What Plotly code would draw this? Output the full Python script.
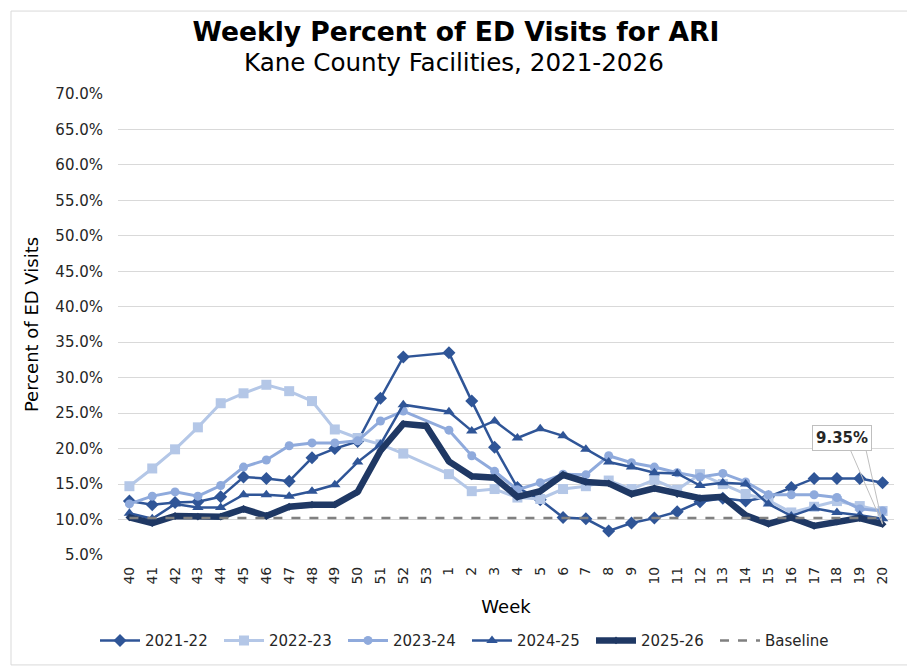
import plotly.graph_objects as go

# MMWR weeks, season runs week 40 -> week 20
weeks = [str(w) for w in list(range(40, 54)) + list(range(1, 21))]

# percent of ED visits for ARI (None = no week 53 that season)
season_2021_22 = [12.6, 12.1, 12.4, 12.5, 13.2, 16.0, 15.8, 15.4, 18.7, 20.0, 21.0, 27.1, 32.9, None,
                  33.5, 26.7, 20.2, 14.5, 12.8, 10.3, 10.1, 8.4, 9.5, 10.2, 11.1, 12.5, 13.0, 12.6,
                  13.2, 14.5, 15.8, 15.8, 15.8, 15.2]
season_2022_23 = [14.7, 17.2, 19.9, 23.0, 26.4, 27.8, 29.0, 28.1, 26.7, 22.7, 21.5, 20.6, 19.3, None,
                  16.4, 14.0, 14.3, 13.1, 12.9, 14.3, 14.7, 15.5, 14.3, 15.6, 14.2, 16.4, 15.0, 13.6,
                  12.7, 11.0, 11.8, 12.6, 11.9, 11.2]
season_2023_24 = [12.2, 13.3, 13.9, 13.3, 14.8, 17.4, 18.4, 20.4, 20.8, 20.8, 21.1, 23.9, 25.3, None,
                  22.6, 19.0, 16.8, 14.2, 15.2, 16.4, 16.3, 19.0, 18.0, 17.4, 16.6, 16.0, 16.5, 15.3,
                  13.5, 13.5, 13.5, 13.1, 11.5, 11.2]
season_2024_25 = [10.9, 10.1, 12.2, 11.7, 11.7, 13.5, 13.5, 13.3, 14.0, 14.9, 18.1, 20.6, 26.2, None,
                  25.2, 22.5, 23.9, 21.5, 22.8, 21.8, 19.9, 18.1, 17.4, 16.6, 16.5, 14.8, 15.2, 15.0,
                  12.2, 10.5, 11.6, 11.0, 10.6, 10.1]
season_2025_26 = [10.3, 9.5, 10.5, 10.4, 10.4, 11.5, 10.5, 11.8, 12.1, 12.1, 13.9, 19.7, 23.5, 23.2,
                  18.2, 16.1, 15.9, 13.2, 14.0, 16.3, 15.3, 15.1, 13.6, 14.4, 13.6, 13.0, 13.2, 10.6,
                  9.4, 10.3, 9.1, 9.7, 10.2, 9.35]
baseline = 10.2

FONT = "DejaVu Sans"

# plot area in px
PW, PH = 776, 461.3

series = [
    ("2021-22", season_2021_22, "#2F5597", 2.5, "diamond", 10),
    ("2022-23", season_2022_23, "#B4C7E7", 3, "square", 10),
    ("2023-24", season_2023_24, "#8FAADC", 3, "circle", 9),
    ("2024-25", season_2024_25, "#2F5597", 2.5, "triangle-up", 10),
    ("2025-26", season_2025_26, "#1F3864", 6.5, "diamond", 6),
]

fig = go.Figure()

for name, vals, color, width, symbol, size in series:
    fig.add_trace(
        go.Scatter(
            x=weeks,
            y=vals,
            mode="lines+markers",
            name=name,
            connectgaps=True,
            line=dict(color=color, width=width),
            marker=dict(symbol=symbol, size=size, color=color),
        )
    )

fig.add_trace(
    go.Scatter(
        x=weeks,
        y=[baseline] * len(weeks),
        mode="lines",
        name="Baseline",
        line=dict(color="#808080", width=2.5, dash="dash"),
    )
)

# callout for the latest value (x given as category index): two leader lines + label box
last_idx = len(weeks) - 1
for tail_x in (-33, -17):
    fig.add_annotation(
        x=last_idx, y=season_2025_26[-1], xref="x", yref="y",
        text="", showarrow=True, arrowhead=0, arrowwidth=1, arrowcolor="#BFBFBF",
        ax=tail_x, ay=-76,
    )
fig.add_annotation(
    x=last_idx,
    y=season_2025_26[-1],
    xref="x",
    yref="y",
    text="<b>9.35%</b>",
    showarrow=True,
    arrowcolor="rgba(0,0,0,0)",
    ax=-41,
    ay=-86,
    bgcolor="white",
    bordercolor="#BFBFBF",
    borderwidth=1,
    borderpad=3,
    font=dict(family=FONT, size=15, color="#262626"),
)

# subtitle
fig.add_annotation(
    text="Kane County Facilities, 2021-2026",
    xref="paper",
    yref="paper",
    x=336 / PW,
    y=1 + 32 / PH,
    xanchor="center",
    yanchor="middle",
    showarrow=False,
    font=dict(family=FONT, size=24.6, color="black"),
)

fig.update_layout(
    width=915,
    height=667,
    autosize=False,
    paper_bgcolor="white",
    plot_bgcolor="white",
    font=dict(family=FONT, color="#262626"),
    margin=dict(l=110, r=29, t=86, b=120),
    title=dict(
        text="<b>Weekly Percent of ED Visits for ARI</b>",
        x=448 / 915,
        xanchor="center",
        y=1 - 24 / 667,
        yanchor="middle",
        font=dict(family=FONT, size=26.6, color="black"),
    ),
    xaxis=dict(
        type="category",
        range=[-0.5, len(weeks) - 0.5],
        tickangle=-90,
        showgrid=False,
        showline=False,
        ticks="",
        ticklabelstandoff=8,
        automargin=False,
        tickfont=dict(size=14, color="#262626"),
        title=dict(text="Week", font=dict(size=18, color="black"), standoff=16),
    ),
    yaxis=dict(
        range=[5, 70],
        dtick=5,
        tickformat=".1f",
        ticksuffix="%",
        gridcolor="#D9D9D9",
        gridwidth=1,
        zeroline=False,
        showline=False,
        ticklabelstandoff=14,
        automargin=False,
        tickfont=dict(size=15, color="#262626"),
        title=dict(text="Percent of ED Visits", font=dict(size=18, color="black"), standoff=12),
    ),
    legend=dict(
        orientation="h",
        x=349 / PW,
        xanchor="center",
        y=-85.7 / PH,
        yanchor="middle",
        font=dict(size=15, color="#262626"),
        itemwidth=40,
        entrywidth=69,
    ),
    shapes=[
        dict(
            type="rect",
            xref="paper",
            yref="paper",
            x0=-107 / PW,
            x1=1 + 21 / PW,
            y0=-110 / PH,
            y1=1 + 83 / PH,
            line=dict(color="#D9D9D9", width=1),
        )
    ],
)

fig.write_html("out.html")
